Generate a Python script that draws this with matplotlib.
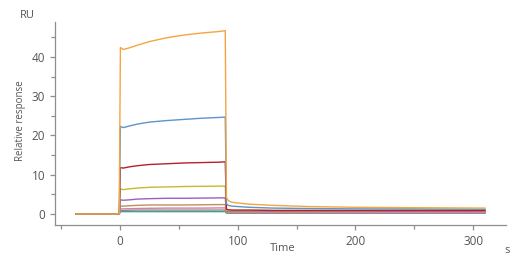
import numpy as np
import matplotlib
matplotlib.use("Agg")
import matplotlib.pyplot as plt
from matplotlib.ticker import MultipleLocator

plt.rcParams['font.family'] = ['Open Sans', 'DejaVu Sans']

# sample times (s) and responses (RU)
t = [-37, -0.5, 0.5, 3, 8, 15, 25, 40, 55, 70, 85, 89.5,
     90.5, 92, 95, 100, 110, 130, 160, 200, 250, 310]

orange = [0, 0, 42.4, 41.9, 42.3, 43.0, 43.9, 44.9, 45.6, 46.1, 46.5, 46.7,
          4.2, 3.4, 3.0, 2.8, 2.5, 2.2, 1.9, 1.7, 1.6, 1.5]
blue = [0, 0, 22.3, 22.0, 22.4, 22.9, 23.4, 23.8, 24.1, 24.4, 24.6, 24.7,
        2.6, 2.2, 2.0, 1.9, 1.7, 1.5, 1.4, 1.3, 1.3, 1.2]
red = [0, 0, 11.8, 11.7, 12.0, 12.3, 12.6, 12.8, 13.0, 13.1, 13.2, 13.3,
       1.2, 1.1, 1.0, 1.0, 1.0, 0.9, 0.9, 0.9, 0.9, 0.9]
olive = [0, 0, 6.4, 6.2, 6.4, 6.6, 6.8, 6.9, 7.0, 7.05, 7.1, 7.1,
         1.0, 0.9, 0.9, 0.9, 0.9, 0.9, 0.9, 0.9, 1.0, 1.0]
purple = [0, 0, 3.6, 3.5, 3.6, 3.8, 3.9, 4.0, 4.0, 4.05, 4.1, 4.1,
          0.8, 0.8, 0.8, 0.8, 0.8, 0.8, 0.8, 0.8, 0.8, 0.8]
tan = [0, 0, 2.0, 2.0, 2.1, 2.2, 2.3, 2.3, 2.3, 2.35, 2.4, 2.4,
       0.6, 0.6, 0.6, 0.6, 0.6, 0.6, 0.6, 0.7, 0.7, 0.7]
pink = [0, 0, 1.3, 1.3, 1.35, 1.4, 1.45, 1.5, 1.5, 1.5, 1.55, 1.55,
        0.4, 0.4, 0.4, 0.4, 0.4, 0.4, 0.4, 0.4, 0.4, 0.4]
gray = [0, 0, 0.9, 0.9, 0.95, 1.0, 1.0, 1.0, 1.0, 1.0, 1.0, 1.0,
        0.3, 0.3, 0.3, 0.3, 0.3, 0.3, 0.3, 0.3, 0.3, 0.3]
teal = [0, 0, 0.6, 0.6, 0.6, 0.6, 0.6, 0.6, 0.6, 0.6, 0.6, 0.6,
        0.2, 0.2, 0.2, 0.2, 0.2, 0.2, 0.2, 0.2, 0.2, 0.2]

series = [
    (teal, '#3aa58c'),
    (gray, '#8c8c8c'),
    (pink, '#e07aa8'),
    (tan, '#b9935a'),
    (purple, '#9b5fc0'),
    (olive, '#c9b82e'),
    (red, '#b5202e'),
    (blue, '#5b95c9'),
    (orange, '#f4a540'),
]

fig = plt.figure(figsize=(5.29, 2.65), dpi=100)
ax = fig.add_axes([0.104, 0.151, 0.853, 0.766])

for vals, col in series:
    ax.plot(t, vals, color=col, lw=1.0)

ax.set_xlim(-55, 328)
ax.set_ylim(-2.8, 48.9)
ax.xaxis.set_major_locator(MultipleLocator(100))
ax.xaxis.set_minor_locator(MultipleLocator(50))
ax.yaxis.set_major_locator(MultipleLocator(10))
ax.yaxis.set_minor_locator(MultipleLocator(5))

for s in ['top', 'right']:
    ax.spines[s].set_visible(False)
for s in ['left', 'bottom']:
    ax.spines[s].set_color('#8a8f96')
    ax.spines[s].set_linewidth(0.9)

ax.tick_params(which='both', direction='out', color='#8a8f96', width=0.9,
               labelsize=8.5, labelcolor='#555555')
ax.tick_params(which='major', length=3.5)
ax.tick_params(which='minor', length=3)

fig.text(0.038, 0.94, 'RU', fontsize=8, color='#555555', ha='left', va='center')
fig.text(0.038, 0.545, 'Relative response', fontsize=7, color='#555555',
         rotation=90, ha='center', va='center')
fig.text(0.535, 0.062, 'Time', fontsize=8, color='#555555', ha='center', va='center')
fig.text(0.958, 0.055, 's', fontsize=8, color='#555555', ha='center', va='center')

fig.savefig('out.png', dpi=100)
